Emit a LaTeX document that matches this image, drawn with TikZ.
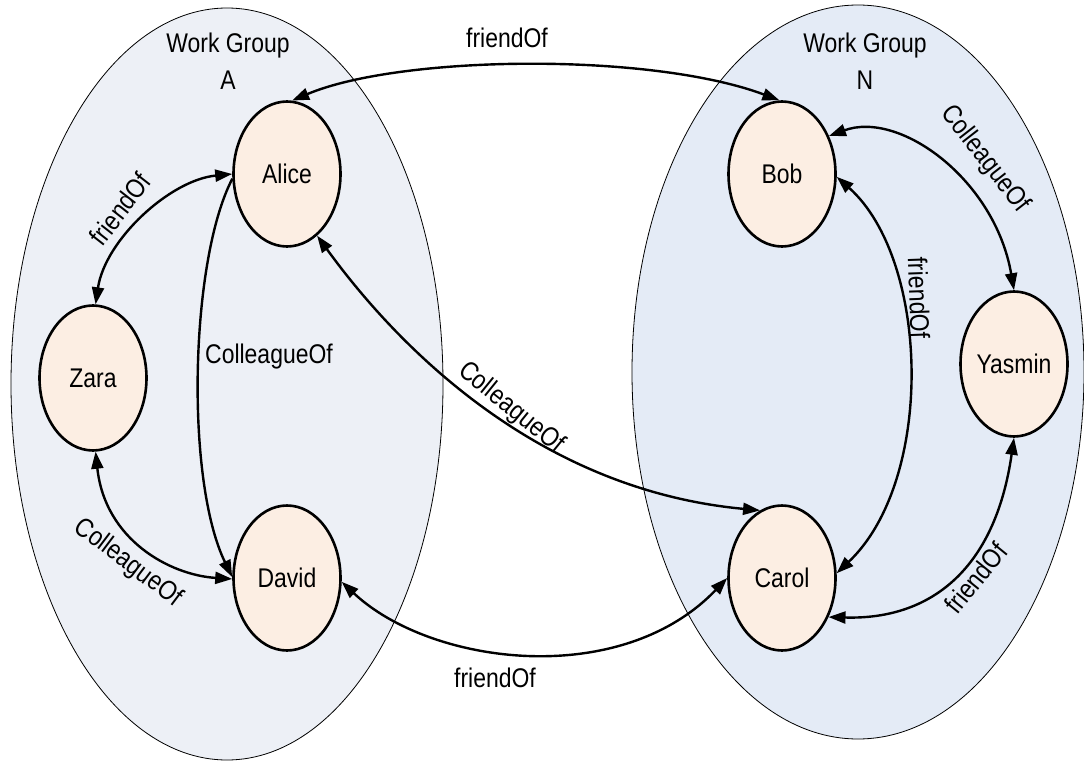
\documentclass[tikz,border=0pt]{standalone}
\usepackage{fontspec}
\setmainfont{Liberation Sans}[FakeStretch=0.85]
\usetikzlibrary{shapes.geometric,arrows.meta}
\definecolor{groupAfill}{RGB}{237,240,246}
\definecolor{groupNfill}{RGB}{228,235,246}
\definecolor{personfill}{RGB}{252,238,227}
\begin{document}
\begin{tikzpicture}[x=1pt,y=-1pt,
  font=\fontsize{27}{37}\selectfont,
  group/.style={ellipse, draw, line width=0.8pt, inner sep=0pt},
  person/.style={ellipse, draw, line width=2.6pt, fill=personfill,
    minimum width=107pt, minimum height=145pt, inner sep=0pt},
  tipstyle/.style={Triangle[length=17pt,width=12pt]},
  both/.style={line width=2.4pt, {Triangle[length=17pt,width=12pt]}-{Triangle[length=17pt,width=12pt]}},
  single/.style={line width=2.4pt, -{Triangle[length=17pt,width=12pt]}},
  lbl/.style={inner sep=0pt}
]
\useasboundingbox (0,0) rectangle (1084,762);

% work groups
\node[group, fill=groupAfill, minimum width=432pt, minimum height=752pt] (wgA) at (227,384) {};
\node[group, fill=groupNfill, minimum width=452pt, minimum height=734pt] (wgN) at (858,372) {};
\node[lbl, align=center, anchor=north] (wgAt) at (228,33) {Work Group\\A};
\node[lbl, align=center, anchor=north] (wgNt) at (865,33) {Work Group\\N};

% people
\node[person] (alice)  at (287,174) {Alice};
\node[person] (zara)   at (93,378)  {Zara};
\node[person] (david)  at (287,578) {David};
\node[person] (bob)    at (782,174) {Bob};
\node[person] (yasmin) at (1014,364) {Yasmin};
\node[person] (carol)  at (782,578) {Carol};

% relations
\draw[both]   (alice.86)  .. controls (400,55)  and (650,52)  .. (bob.92);
\draw[both]   (alice.180) .. controls (170,180) and (105,240) .. (zara.88);
\draw[single] (alice.185) .. controls (190,260) and (185,480) .. (david.179);
\draw[both]   (zara.-88)  .. controls (105,540) and (170,575) .. (david.181);
\draw[both]   (alice.-64) .. controls (400,350) and (540,490) .. (carol.108);
\draw[both]   (david.-4)  .. controls (430,665) and (620,690) .. (carol.180);
\draw[both]   (bob.39)    .. controls (900,110) and (995,180) .. (yasmin.90);
\draw[both]   (bob.-3)    .. controls (930,260) and (935,480) .. (carol.5);
\draw[both]   (yasmin.-90).. controls (995,570) and (930,620) .. (carol.-40);

% relation labels
\node[lbl] (l1) at (507,38) {friendOf};
\node[lbl, rotate=52] (l2) at (120,209) {friendOf};
\node[lbl] (l3) at (269,357) {ColleagueOf};
\node[lbl, rotate=-37] (l4) at (128,563) {ColleagueOf};
\node[lbl, rotate=-39] (l5) at (511,408) {ColleagueOf};
\node[lbl] (l6) at (495,678) {friendOf};
\node[lbl, rotate=-52] (l7) at (985,159) {ColleagueOf};
\node[lbl, rotate=-88] (l8) at (919,298) {friendOf};
\node[lbl, rotate=51] (l9) at (976,578) {friendOf};
\end{tikzpicture}
\end{document}
